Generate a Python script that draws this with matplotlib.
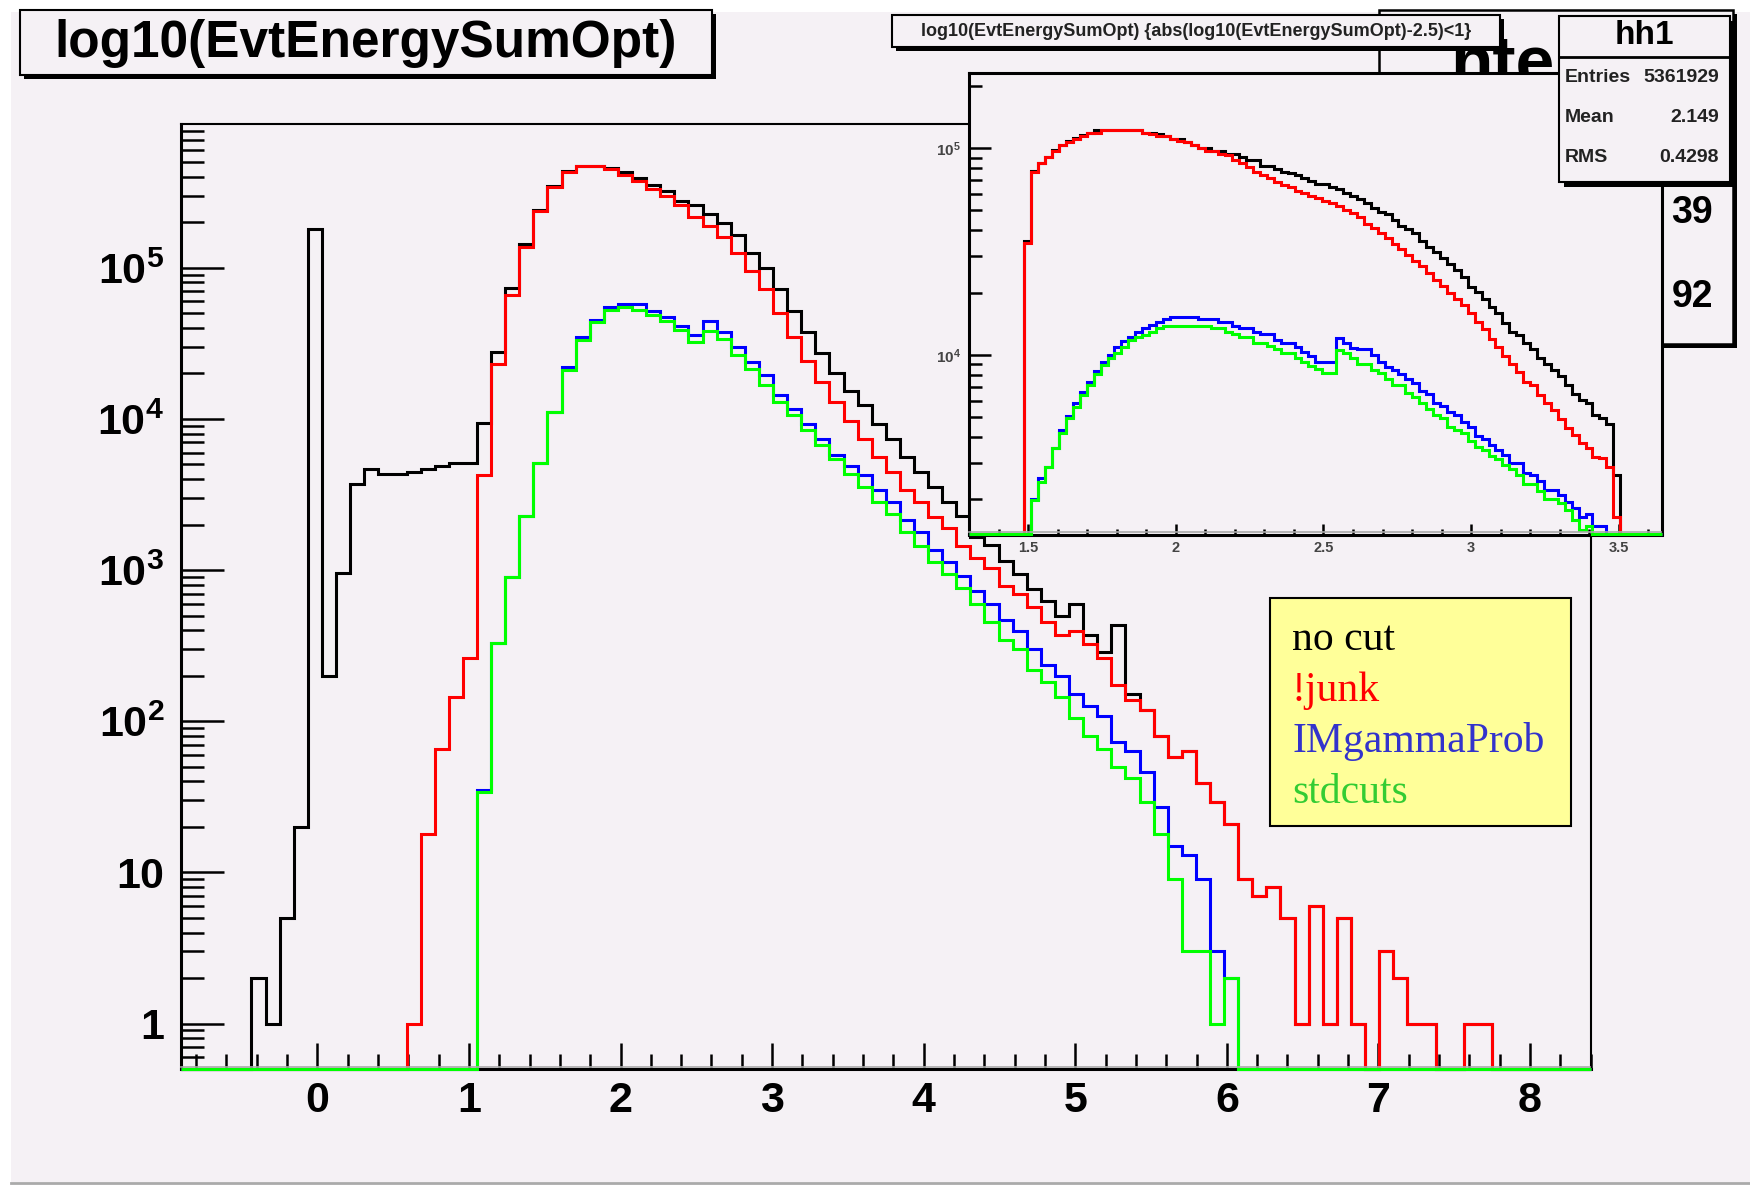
import numpy as np
import matplotlib
matplotlib.use("Agg")
import matplotlib.pyplot as plt
import matplotlib.transforms as mtransforms
from matplotlib.patches import Rectangle
from matplotlib.lines import Line2D
from matplotlib.ticker import FixedLocator, FixedFormatter, NullFormatter

plt.rcParams['font.family'] = ['Liberation Sans', 'DejaVu Sans']
plt.rcParams['mathtext.fontset'] = 'custom'
plt.rcParams['mathtext.rm'] = 'Liberation Sans:bold'
plt.rcParams['mathtext.it'] = 'Liberation Sans:bold'
plt.rcParams['mathtext.bf'] = 'Liberation Sans:bold'

# ---------------- data (counts per bin, 100 bins each) ----------------
main_range = (-0.9, 8.4)
inset_range = (1.3, 3.645)

main_nocut = [0, 0, 0, 0, 0, 2, 1, 5, 20, 180000,
              200, 950, 3720, 4640, 4310, 4310, 4475, 4680, 4900, 5130,
              5130, 9400, 27700, 73100, 144000, 240000, 348000, 438000, 474000, 474000,
              458000, 430000, 392000, 355000, 324000, 279000, 260000, 226000, 197000, 164000,
              126000, 99300, 72600, 52200, 37900, 27500, 20300, 15400, 12300, 9330,
              7420, 5630, 4480, 3560, 2830, 2270, 1660, 1476, 1150, 946,
              754, 624, 497, 598, 373, 287, 435, 151, 118, 80,
              58, 64, 39, 29, 21, 9, 7, 8, 5, 1,
              6, 1, 5, 1, 0, 3, 2, 1, 1, 0,
              0, 1, 1, 0, 0, 0, 0, 0, 0, 0]
main_junk = [0, 0, 0, 0, 0, 0, 0, 0, 0, 0,
             0, 0, 0, 0, 0, 0, 1, 18, 66, 144,
             263, 4270, 23100, 66200, 138000, 237000, 345000, 434000, 471000, 471000,
             454000, 411000, 375000, 333000, 298000, 262000, 216000, 188000, 160000, 126000,
             95700, 72600, 50400, 34900, 24200, 17700, 12900, 9760, 7420, 5630,
             4480, 3400, 2830, 2250, 1890, 1449, 1195, 1036, 788, 697,
             570, 454, 373, 395, 324, 262, 174, 138, 118, 80,
             58, 64, 39, 29, 21, 9, 7, 8, 5, 1,
             6, 1, 5, 1, 0, 3, 2, 1, 1, 0,
             0, 1, 1, 0, 0, 0, 0, 0, 0, 0]
main_imgamma = [0, 0, 0, 0, 0, 0, 0, 0, 0, 0,
                0, 0, 0, 0, 0, 0, 0, 0, 0, 0,
                0, 35, 331, 907, 2265, 5080, 11100, 22000, 34800, 45500,
                55200, 57800, 57800, 52200, 47600, 41500, 36200, 44300, 37900, 30100,
                24000, 19400, 14500, 11700, 9330, 7420, 5790, 4910, 4280, 3400,
                2830, 2150, 1790, 1360, 1130, 917, 727, 598, 468, 395,
                302, 235, 199, 151, 127, 109, 73, 64, 46, 27,
                15, 13, 9, 3, 2, 0, 0, 0, 0, 0,
                0, 0, 0, 0, 0, 0, 0, 0, 0, 0,
                0, 0, 0, 0, 0, 0, 0, 0, 0, 0]
main_std = [0, 0, 0, 0, 0, 0, 0, 0, 0, 0,
            0, 0, 0, 0, 0, 0, 0, 0, 0, 0,
            0, 34, 331, 907, 2265, 5080, 11100, 21000, 33300, 43900,
            52600, 55200, 52700, 48500, 44300, 38600, 32200, 38300, 33700, 26700,
            21300, 16900, 13000, 10700, 8510, 6760, 5430, 4320, 3560, 2830,
            2360, 1790, 1440, 1140, 942, 763, 598, 454, 345, 302,
            218, 182, 145, 105, 80, 66, 50, 42, 29, 18,
            9, 3, 3, 1, 2, 0, 0, 0, 0, 0,
            0, 0, 0, 0, 0, 0, 0, 0, 0, 0,
            0, 0, 0, 0, 0, 0, 0, 0, 0, 0]

inset_nocut = [0, 0, 0, 0, 0, 0, 0, 0, 35400, 77500,
               85000, 90800, 97500, 104000, 108000, 111500, 115500, 119000, 122100, 122100,
               122100, 122100, 122100, 122100, 122100, 119000, 118000, 117500, 114700, 110900,
               110900, 107700, 103700, 100300, 100300, 97400, 97400, 93800, 93800, 90400,
               87800, 87800, 82100, 82100, 79100, 77100, 75700, 74300, 71600, 69700,
               66900, 66900, 65200, 63300, 61000, 58800, 56600, 54600, 51200, 49400,
               48100, 45000, 42100, 40600, 38800, 35700, 33400, 31300, 29400, 27600,
               25800, 23900, 21400, 20200, 18600, 17000, 15900, 14200, 12970, 12500,
               11390, 10650, 9640, 9050, 8460, 7910, 7160, 6480, 6060, 5880,
               5130, 4940, 4640, 2630, 0, 0, 0, 0, 0, 0]
inset_junk = [0, 0, 0, 0, 0, 0, 0, 0, 34700, 77100,
              84600, 90400, 97000, 103700, 107700, 110900, 114700, 118200, 119000, 122100,
              122100, 122100, 122100, 122100, 122100, 119000, 116800, 114700, 114700, 110900,
              108900, 107700, 103700, 100300, 97400, 97400, 93800, 92800, 87800, 84600,
              81500, 77100, 74300, 71600, 69000, 66400, 64700, 62400, 60500, 58800,
              57300, 55600, 54200, 52600, 50300, 48500, 46300, 43000, 41000, 39100,
              36700, 34400, 32400, 30500, 28600, 26800, 24800, 23100, 21600, 20000,
              18600, 17500, 15900, 14500, 13300, 12000, 10970, 9890, 9050, 8310,
              7430, 7160, 6410, 5840, 5420, 4880, 4420, 4100, 3770, 3540,
              3200, 3160, 2880, 1650, 0, 0, 0, 0, 0, 0]
inset_imgamma = [0, 0, 0, 0, 0, 0, 0, 0, 0, 2000,
                 2530, 2880, 3540, 4340, 5070, 5840, 6650, 7380, 8400, 9290,
                 10000, 10970, 11730, 12260, 12970, 13460, 13970, 14390, 14880, 15330,
                 15330, 15330, 15330, 14880, 14880, 14880, 14390, 14390, 13870, 13460,
                 13460, 12970, 12590, 12590, 11820, 11390, 11390, 10970, 10370, 9890,
                 9290, 9290, 9290, 12130, 11470, 10770, 10650, 10650, 10000, 9290,
                 8780, 8460, 8090, 7630, 7300, 6720, 6480, 5880, 5670, 5320,
                 5130, 4760, 4470, 4060, 3910, 3670, 3470, 3280, 2990, 2990,
                 2700, 2630, 2470, 2220, 2220, 2100, 1950, 1810, 1650, 1700,
                 1490, 1490, 0, 0, 0, 0, 0, 0, 0, 0]
inset_std = [0, 0, 0, 0, 0, 0, 0, 0, 0, 1990,
             2440, 2880, 3540, 4180, 4940, 5620, 6410, 7160, 8090, 8950,
             9640, 10260, 10970, 11820, 12170, 12500, 12970, 13460, 13870, 13870,
             13870, 13870, 13870, 13870, 13870, 13460, 13460, 12970, 12590, 12260,
             12260, 11390, 11390, 11060, 10650, 10260, 10260, 9640, 9290, 8850,
             8520, 8150, 8150, 10570, 10190, 9640, 9050, 9050, 8460, 8150,
             7630, 7160, 7160, 6530, 6290, 5880, 5460, 5130, 4940, 4470,
             4340, 4180, 3850, 3580, 3470, 3250, 3130, 2940, 2800, 2630,
             2380, 2380, 2210, 2000, 2000, 1920, 1770, 1590, 1420, 1490,
             0, 0, 0, 0, 0, 0, 0, 0, 0, 0]

series_labels = ['no cut', '!junk', 'IMgammaProb', 'stdcuts']
line_colors = ['black', '#ff0000', '#0000ff', '#00ff00']
label_colors = ['black', '#ff0000', '#3333cc', '#33cc33']

main_xticks = [0, 1, 2, 3, 4, 5, 6, 7, 8]
main_xlabels = ['0', '1', '2', '3', '4', '5', '6', '7', '8']
main_yticks = [1, 10, 1e2, 1e3, 1e4, 1e5]
main_ylabels = ['1', '10', '$10^{2}$', '$10^{3}$', '$10^{4}$', '$10^{5}$']
inset_xticks = [1.5, 2.0, 2.5, 3.0, 3.5]
inset_xlabels = ['1.5', '2', '2.5', '3', '3.5']
inset_yticks = [1e4, 1e5]
inset_ylabels = ['$10^{4}$', '$10^{5}$']

stats_names = ['Entries', 'Mean', 'RMS']
stats_values = ['5361929', '2.149', '0.4298']

# ---------------- figure ----------------
PINK = '#f5f1f5'
W, H = 1750, 1186
fig = plt.figure(figsize=(W / 100, H / 100), dpi=100, facecolor='white')
px = mtransforms.Affine2D().scale(1.0 / W, -1.0 / H).translate(0, 1) + fig.transFigure


def box(x0, y0, x1, y1, z, fc=PINK, lw=1.5, shadow=0):
    if shadow:
        fig.add_artist(Rectangle((x0 + shadow, y0 + shadow), x1 - x0, y1 - y0,
                                 transform=px, fc='black', ec='none', zorder=z))
    fig.add_artist(Rectangle((x0, y0), x1 - x0, y1 - y0, transform=px,
                             fc=fc, ec='black', lw=lw, zorder=z))


def hline(x0, x1, y, color, lw, z):
    fig.add_artist(Line2D([x0, x1], [y, y], transform=px, color=color, lw=lw, zorder=z))


def draw_hist(ax, edges, counts, color, floor):
    c = np.asarray(counts, dtype=float)
    vals = np.where(c > 0, c, floor)
    ax.stairs(vals, edges, baseline=None, color=color, lw=2.2, clip_on=False, zorder=3)


# canvas
fig.add_artist(Rectangle((11, 12), W - 11, 1170, transform=px, fc=PINK, ec='none', zorder=-10))
hline(11, W, 1183, '#aaaaaa', 2, -9)

# ---- main pad ----
ax = fig.add_axes([181 / W, 1 - 1069 / H, (1590.6 - 181) / W, (1069 - 124) / H],
                  zorder=1, facecolor=PINK)
ax.set_yscale('log')
main_floor = 0.5
ax.set_xlim(*main_range)
ax.set_ylim(main_floor, 8.95e5)
main_edges = np.linspace(main_range[0], main_range[1], len(main_nocut) + 1)
for counts, col in zip([main_nocut, main_junk, main_imgamma, main_std], line_colors):
    draw_hist(ax, main_edges, counts, col, main_floor)

ax.xaxis.set_major_locator(FixedLocator(main_xticks))
ax.xaxis.set_major_formatter(FixedFormatter(main_xlabels))
xminor = [round(v, 1) for v in np.arange(-0.8, 8.41, 0.2) if abs(v - round(v)) > 1e-6]
ax.xaxis.set_minor_locator(FixedLocator(xminor))
ax.xaxis.set_minor_formatter(NullFormatter())
ax.yaxis.set_major_locator(FixedLocator(main_yticks))
ax.yaxis.set_major_formatter(FixedFormatter(main_ylabels))
yminor = [m * 10.0 ** e for e in range(-1, 6) for m in range(2, 10)]
ax.yaxis.set_minor_locator(FixedLocator(yminor))
ax.yaxis.set_minor_formatter(NullFormatter())
ax.tick_params(which='both', direction='in', top=False, right=False, width=1.8, color='black')
ax.tick_params(axis='x', which='major', length=19, pad=9, labelsize=31)
ax.tick_params(axis='x', which='minor', length=11)
ax.tick_params(axis='y', which='major', length=31, pad=12, labelsize=31)
ax.tick_params(axis='y', which='minor', length=16.5)
for lab in ax.get_xticklabels() + ax.get_yticklabels():
    lab.set_fontweight('bold')
for side in ['left', 'bottom']:
    ax.spines[side].set_linewidth(2.2)
for side in ['top', 'right']:
    ax.spines[side].set_linewidth(1.5)
hline(181, 1590, 1066.5, '#aaaaaa', 1.2, 1.5)

# ---- hidden stats box behind (htemp), mostly covered ----
box(1379, 10, 1733, 344, 2, lw=1.8, shadow=4)
hidden_title = fig.text(1450, 84, 'hte', transform=px, ha='left', va='baseline',
                        fontsize=50, fontweight='bold', zorder=2.1)
hidden_title.set_clip_path(Rectangle((1379, 10), 180, 64, transform=px))
fig.text(1713, 213, '39', transform=px, ha='right', va='center', fontsize=27,
         fontweight='bold', zorder=2.1)
fig.text(1713, 297, '92', transform=px, ha='right', va='center', fontsize=27,
         fontweight='bold', zorder=2.1)

# ---- inset pad ----
ax2 = fig.add_axes([969 / W, 1 - 534.5 / H, (1661.7 - 969) / W, (534.5 - 73) / H],
                   zorder=3, facecolor=PINK)
ax2.set_yscale('log')
inset_floor = 1354
ax2.set_xlim(*inset_range)
ax2.set_ylim(inset_floor, 2.31e5)
inset_edges = np.linspace(inset_range[0], inset_range[1], len(inset_nocut) + 1)
for counts, col in zip([inset_nocut, inset_junk, inset_imgamma, inset_std], line_colors):
    draw_hist(ax2, inset_edges, counts, col, inset_floor)
ax2.xaxis.set_major_locator(FixedLocator(inset_xticks))
ax2.xaxis.set_major_formatter(FixedFormatter(inset_xlabels))
x2minor = [round(v, 1) for v in np.arange(1.3, 3.65, 0.1) if abs(v * 2 - round(v * 2)) > 1e-6]
ax2.xaxis.set_minor_locator(FixedLocator(x2minor))
ax2.xaxis.set_minor_formatter(NullFormatter())
ax2.yaxis.set_major_locator(FixedLocator(inset_yticks))
ax2.yaxis.set_major_formatter(FixedFormatter(inset_ylabels))
y2minor = [m * 10.0 ** e for e in range(3, 6) for m in range(2, 10)]
ax2.yaxis.set_minor_locator(FixedLocator(y2minor))
ax2.yaxis.set_minor_formatter(NullFormatter())
ax2.tick_params(which='both', direction='in', top=False, right=False, width=1.8,
                color='black', labelcolor='#444444')
ax2.tick_params(axis='x', which='major', length=8, pad=5, labelsize=10.5)
ax2.tick_params(axis='x', which='minor', length=4)
ax2.tick_params(axis='y', which='major', length=16, pad=6, labelsize=11)
ax2.tick_params(axis='y', which='minor', length=9.5)
for lab in ax2.get_xticklabels() + ax2.get_yticklabels():
    lab.set_fontweight('bold')
for side in ax2.spines:
    ax2.spines[side].set_linewidth(2.2)
hline(969, 1661, 532, '#aaaaaa', 1.2, 3.5)

# ---- inset title ----
box(892, 15, 1500, 47, 4, shadow=4)
fig.text(1196, 31, 'log10(EvtEnergySumOpt) {abs(log10(EvtEnergySumOpt)-2.5)<1}',
         transform=px, ha='center', va='center', fontsize=13, fontweight='bold',
         color='#222222', zorder=4.1)

# ---- stats box hh1 ----
box(1559, 16, 1730, 182, 5, shadow=5)
hline(1559, 1730, 57, 'black', 2, 5.1)
fig.text(1644, 36, 'hh1', transform=px, ha='center', va='center', fontsize=24,
         fontweight='bold', zorder=5.1)
for i, (name, val) in enumerate(zip(stats_names, stats_values)):
    yy = 77 + 40 * i
    fig.text(1565, yy, name, transform=px, ha='left', va='center', fontsize=14,
             fontweight='bold', color='#222222', zorder=5.1)
    fig.text(1719, yy, val, transform=px, ha='right', va='center', fontsize=14,
             fontweight='bold', color='#222222', zorder=5.1)

# ---- main title ----
box(20, 10, 712, 75, 5, shadow=4)
fig.text(366, 43, 'log10(EvtEnergySumOpt)', transform=px, ha='center', va='center',
         fontsize=37, fontweight='bold', zorder=5.1)

# ---- legend ----
box(1270, 598, 1571, 826, 5, fc='#ffff99', lw=1.5)
for i, (lab, col) in enumerate(zip(series_labels, label_colors)):
    fig.text(1292, 650 + 51 * i, lab, transform=px, ha='left', va='baseline',
             fontsize=30, family='Liberation Serif', color=col, zorder=5.1)

fig.savefig('out.png', dpi=100, facecolor='white')
